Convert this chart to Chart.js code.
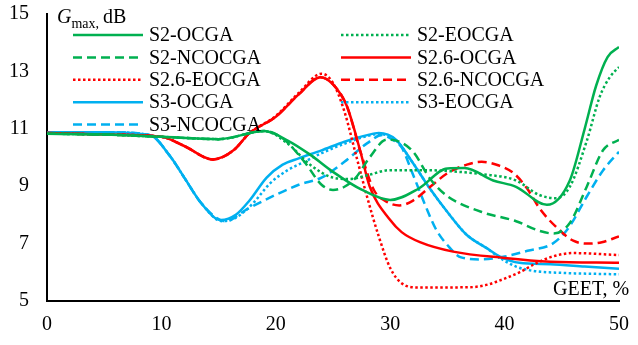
<!DOCTYPE html>
<html>
<head>
<meta charset="utf-8">
<script src="https://cdn.jsdelivr.net/npm/chart.js@4/dist/chart.umd.min.js"></script>
<style>
  html, body { margin: 0; padding: 0; background: #fff; }
  #wrap { width: 638px; height: 345px; position: relative; }
</style>
</head>
<body>
<div id="wrap"><canvas id="c"></canvas></div>
<script>
// Maximum available gain versus GEET, [GEET %, Gmax dB]
const S2_OCGA = [[0,10.83],[5,10.8],[10,10.72],[15,10.64],[19,10.92],[21,10.6],[23,10.1],[25,9.5],[27.5,8.88],[30,8.52],[32.5,8.92],[35,9.62],[36.5,9.63],[39,9.2],[41,8.98],[43.7,8.35],[45.7,9.2],[47,11],[48,12.5],[49,13.5],[50,13.85]];
const S2_EOCGA = [[0,10.83],[5,10.8],[10,10.72],[15,10.64],[19,10.92],[21,10.5],[23,9.75],[25,9.3],[26.5,9.25],[28,9.38],[30,9.56],[33,9.56],[36,9.5],[38,9.42],[41,9.2],[43,8.7],[44.5,8.58],[45.7,8.98],[47.2,10.6],[48.3,12.1],[49.2,12.8],[50,13.15]];
const S2_NCOCGA = [[0,10.83],[5,10.8],[10,10.72],[15,10.64],[19,10.92],[20.5,10.7],[22.5,9.85],[24,9.05],[25,8.87],[26,8.98],[27,9.3],[28.2,10.0],[29.7,10.62],[30.6,10.58],[32,10.2],[33.5,9.25],[35,8.65],[38,8.1],[41,7.78],[43,7.45],[44.3,7.35],[45.7,7.72],[47.2,9.0],[48.6,10.25],[50,10.62]];
const S26_OCGA = [[0,10.85],[5,10.8],[10,10.72],[12,10.4],[14.5,9.93],[16.3,10.25],[17.7,10.85],[20,11.42],[22,12.2],[23.9,12.8],[25,12.55],[26.2,11.8],[27.4,10.2],[28.2,9.0],[30,7.82],[31,7.4],[32.6,7.05],[35.5,6.72],[40,6.5],[44,6.37],[50,6.33]];
const S26_EOCGA = [[0,10.85],[5,10.8],[10,10.72],[12,10.4],[14.5,9.93],[16.3,10.25],[17.7,10.85],[20,11.45],[22,12.25],[24,12.92],[25,12.6],[26,11.6],[27,10.1],[28,8.6],[29,7.25],[30,6.15],[31,5.62],[32.5,5.47],[37,5.48],[38.5,5.57],[40,5.78],[41.3,6.0],[42.7,6.3],[44.2,6.55],[46,6.67],[50,6.6]];
const S26_NCOCGA = [[0,10.85],[5,10.8],[10,10.72],[12,10.4],[14.5,9.93],[16.3,10.25],[17.7,10.85],[20,11.42],[22,12.2],[23.9,12.8],[25,12.55],[26.2,11.8],[27.4,10.2],[28.6,8.85],[29.6,8.48],[30.8,8.33],[32,8.5],[33.5,8.98],[35,9.45],[36.7,9.75],[38,9.85],[39.5,9.72],[40.8,9.45],[42,8.9],[43.1,8.2],[44.8,7.47],[46,7.1],[47.2,7.0],[48.5,7.05],[50,7.25]];
const S3_OCGA = [[0,10.88],[5,10.88],[9,10.78],[10.75,10.05],[12,9.3],[13.5,8.4],[15.2,7.82],[16.5,8.0],[17.7,8.5],[19.2,9.3],[20.6,9.75],[22,9.97],[24,10.25],[26,10.55],[28,10.78],[29,10.85],[30.5,10.62],[32,9.8],[33.5,8.9],[35,8.1],[36.7,7.3],[38.4,6.85],[39.6,6.55],[41.3,6.33],[44,6.28],[47,6.2],[50,6.12]];
const S3_EOCGA = [[0,10.88],[5,10.88],[9,10.78],[10.75,10.05],[12,9.3],[13.5,8.4],[15.3,7.78],[16.5,7.9],[18,8.4],[19.5,9.1],[21,9.55],[22.5,9.85],[24,10.15],[26,10.48],[28,10.75],[29,10.82],[30.5,10.6],[32,9.8],[33.5,8.9],[35,8.1],[36.7,7.3],[38.4,6.85],[39.6,6.5],[41,6.2],[42.5,6.05],[45,5.98],[50,5.93]];
const S3_NCOCGA = [[0,10.88],[5,10.88],[9,10.78],[10.75,10.05],[12,9.3],[13.5,8.4],[15.6,7.78],[17.5,8.2],[20,8.7],[22,9.05],[24,9.3],[26,9.85],[28,10.5],[29.3,10.78],[30.2,10.62],[31,10.35],[32,9.4],[33,8.4],[34,7.5],[35,6.95],[36.2,6.52],[38,6.45],[40,6.55],[42,6.75],[44.2,7.0],[45.5,7.5],[47.2,8.65],[48.6,9.55],[50,10.2]];

const SERIES_NAMES = ['S2-OCGA','S2-EOCGA','S2-NCOCGA','S2.6-OCGA','S2.6-EOCGA','S2.6-NCOCGA','S3-OCGA','S3-EOCGA','S3-NCOCGA'];
const SERIES_DATA = [S2_OCGA,S2_EOCGA,S2_NCOCGA,S26_OCGA,S26_EOCGA,S26_NCOCGA,S3_OCGA,S3_EOCGA,S3_NCOCGA];
const X_TICKS = [0,10,20,30,40,50];
const Y_TICKS = [5,7,9,11,13,15];

const GREEN = '#00B050', RED = '#FF0000', BLUE = '#00B0F0';
const COLORS = [GREEN,GREEN,GREEN,RED,RED,RED,BLUE,BLUE,BLUE];
const SOLID = [], DASH = [9,5], DOT = [2.5,2.5];
const DASHES = [SOLID,DOT,DASH,SOLID,DOT,DASH,SOLID,DOT,DASH];

const FONT = "'Liberation Serif','Times New Roman',serif";

const datasets = SERIES_NAMES.map((name, i) => ({
  label: name,
  data: SERIES_DATA[i].map(p => ({x: p[0], y: p[1]})),
  borderColor: COLORS[i],
  backgroundColor: COLORS[i],
  borderWidth: 2.5,
  borderDash: DASHES[i],
  borderCapStyle: 'butt',
  pointRadius: 0,
  cubicInterpolationMode: 'monotone',
  fill: false
}));

// Two-column legend plus axis captions drawn on the canvas
const captions = {
  id: 'captions',
  afterDraw(chart) {
    const ctx = chart.ctx;
    ctx.save();
    ctx.fillStyle = '#000';
    ctx.textBaseline = 'alphabetic';
    // y-axis caption: G_max, dB
    ctx.font = 'italic 20px ' + FONT;
    ctx.fillText('G', 57, 23);
    let x = 57 + ctx.measureText('G').width;
    ctx.font = '14px ' + FONT;
    ctx.fillText('max,', x, 28);
    x += ctx.measureText('max,').width + 4;
    ctx.font = '20px ' + FONT;
    ctx.fillText('dB', x, 23);
    // x-axis caption
    ctx.fillText('GEET, %', 553, 295);

    // legend
    const cols = [73, 341];
    const rowY0 = 35, rowStep = 22.4, lineLen = 70;
    chart.data.datasets.forEach((ds, i) => {
      const col = i % 2, row = Math.floor(i / 2);
      const lx = cols[col], ly = rowY0 + row * rowStep;
      ctx.save();
      ctx.strokeStyle = ds.borderColor;
      ctx.lineWidth = ds.borderWidth;
      ctx.lineCap = 'butt';
      ctx.setLineDash(ds.borderDash);
      ctx.beginPath();
      ctx.moveTo(lx, ly);
      ctx.lineTo(lx + lineLen, ly);
      ctx.stroke();
      ctx.restore();
      ctx.font = '20px ' + FONT;
      ctx.textBaseline = 'middle';
      ctx.fillText(ds.label, lx + lineLen + 6, ly + 1);
    });
    ctx.restore();
  }
};

new Chart(document.getElementById('c'), {
  type: 'line',
  data: { datasets },
  options: {
    responsive: true,
    maintainAspectRatio: false,
    animation: false,
    layout: { padding: { top: 14, right: 19, left: 0, bottom: 0 } },
    plugins: { legend: { display: false }, tooltip: { enabled: false } },
    scales: {
      x: {
        type: 'linear', min: 0, max: 50,
        afterBuildTicks: s => { s.ticks = X_TICKS.map(v => ({value: v})); },
        afterFit: s => { s.height = 44; s.paddingLeft = 0; s.paddingRight = 0; },
        grid: { display: false, drawOnChartArea: false, drawTicks: true, tickLength: 6, tickColor: '#000', tickWidth: 2 },
        border: { display: true, color: '#000', width: 2 },
        ticks: { color: '#000', font: { family: FONT, size: 20 }, padding: 6, maxRotation: 0 }
      },
      y: {
        type: 'linear', min: 5, max: 15,
        afterBuildTicks: s => { s.ticks = Y_TICKS.map(v => ({value: v})); },
        afterFit: s => { s.width = 47; s.paddingTop = 0; s.paddingBottom = 0; },
        grid: { display: false, drawOnChartArea: false, drawTicks: true, tickLength: 6, tickColor: '#000', tickWidth: 2 },
        border: { display: true, color: '#000', width: 2 },
        ticks: { color: '#000', font: { family: FONT, size: 20 }, padding: 12 }
      }
    }
  },
  plugins: [captions]
});
</script>
</body>
</html>
